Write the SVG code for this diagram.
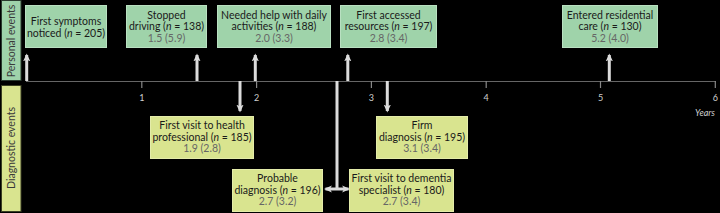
<svg xmlns="http://www.w3.org/2000/svg" width="720" height="213" viewBox="0 0 720 213">
<defs>
<style>
.bg{fill:#000}
.pe{fill:#9fd3aa;stroke:#b9e0c1;stroke-width:1}
.de{fill:#d9e48f;stroke:#e4ecaa;stroke-width:1}
.band-p{fill:#9fd3aa;stroke:#2a3a2e;stroke-width:1}
.band-d{fill:#d9e48f;stroke:#3a3e22;stroke-width:1}
.t{font-family:Lato,"Liberation Sans",sans-serif;font-size:10.5px;fill:#1a1a1a;text-anchor:middle}
.g{fill:#666}
.band{font-family:Lato,"Liberation Sans",sans-serif;font-size:10.5px;fill:#3a3a3a;text-anchor:middle}
.tick{stroke:#888;stroke-width:1.2}
.tl{font-family:Lato,"Liberation Sans",sans-serif;font-size:9px;fill:#cfcfcf;text-anchor:middle}
.arr{stroke:#dcdcdc;stroke-width:3;fill:none;marker-end:url(#ah)}
</style>
<marker id="ah" viewBox="0 0 10 10" refX="8" refY="5" markerWidth="8" markerHeight="8" markerUnits="userSpaceOnUse" orient="auto">
<path d="M0,0.5 L10,5 L0,9.5 L2.5,5 Z" fill="#dcdcdc"/>
</marker>
</defs>
<rect class="bg" x="0" y="0" width="720" height="213"/>

<g id="band-personal">
<rect class="band-p" x="1.5" y="0.5" width="19.5" height="80"/>
<text class="band" transform="translate(15,41) rotate(-90)">Personal events</text>
</g>
<g id="band-diagnostic">
<rect class="band-d" x="1.5" y="85.5" width="19.5" height="126"/>
<text class="band" transform="translate(15,148) rotate(-90)">Diagnostic events</text>
</g>

<g id="axis">
<line x1="26" y1="81.5" x2="716" y2="81.5" stroke="#666" stroke-width="1"/>
<line class="tick" x1="141.8" y1="81" x2="141.8" y2="88"/>
<line class="tick" x1="256.6" y1="81" x2="256.6" y2="88"/>
<line class="tick" x1="371.4" y1="81" x2="371.4" y2="88"/>
<line class="tick" x1="486.2" y1="81" x2="486.2" y2="88"/>
<line class="tick" x1="600.5" y1="81" x2="600.5" y2="88"/>
<line class="tick" x1="715.3" y1="81" x2="715.3" y2="88"/>
<text class="tl" x="141.8" y="101">1</text>
<text class="tl" x="256.6" y="101">2</text>
<text class="tl" x="371.4" y="101">3</text>
<text class="tl" x="486.2" y="101">4</text>
<text class="tl" x="600.5" y="101">5</text>
<text class="tl" x="715.3" y="101">6</text>
<text class="tl" x="705" y="116" font-style="italic">Years</text>
</g>

<g id="connectors">
<line class="arr" x1="26.7" y1="81" x2="26.7" y2="55"/>
<line class="arr" x1="197" y1="81" x2="197" y2="55"/>
<line class="arr" x1="255.3" y1="81" x2="255.3" y2="55"/>
<line class="arr" x1="347.8" y1="81" x2="347.8" y2="55"/>
<line class="arr" x1="609.3" y1="81" x2="609.3" y2="55"/>
<line class="arr" x1="240" y1="81" x2="240" y2="111"/>
<line class="arr" x1="387.3" y1="81" x2="387.3" y2="111"/>
<path d="M337,81 V189" stroke="#dcdcdc" stroke-width="3" fill="none"/>
<path class="arr" d="M337,189 H325.5"/>
<path class="arr" d="M337,189 H348.5"/>
</g>

<g id="first-symptoms">
<rect class="pe" x="25.5" y="5.5" width="81" height="42"/>
<text class="t" x="66" y="25">First symptoms</text>
<text class="t" x="66" y="36.5">noticed (<tspan font-style="italic">n</tspan> = 205)</text>
</g>
<g id="stopped-driving">
<rect class="pe" x="126.5" y="5.5" width="80" height="42"/>
<text class="t" x="166.5" y="18.5">Stopped</text>
<text class="t" x="166.5" y="30">driving (<tspan font-style="italic">n</tspan> = 138)</text>
<text class="t g" x="166.5" y="41.5">1.5 (5.9)</text>
</g>
<g id="needed-help">
<rect class="pe" x="217.5" y="5.5" width="113" height="42"/>
<text class="t" x="274" y="18.5">Needed help with daily</text>
<text class="t" x="274" y="30">activities (<tspan font-style="italic">n</tspan> = 188)</text>
<text class="t g" x="274" y="41.5">2.0 (3.3)</text>
</g>
<g id="accessed-resources">
<rect class="pe" x="340.5" y="5.5" width="96" height="42"/>
<text class="t" x="388.5" y="18.5">First accessed</text>
<text class="t" x="388.5" y="30">resources (<tspan font-style="italic">n</tspan> = 197)</text>
<text class="t g" x="388.5" y="41.5">2.8 (3.4)</text>
</g>
<g id="residential-care">
<rect class="pe" x="562.5" y="5.5" width="95" height="42"/>
<text class="t" x="610" y="18.5">Entered residential</text>
<text class="t" x="610" y="30">care (<tspan font-style="italic">n</tspan> = 130)</text>
<text class="t g" x="610" y="41.5">5.2 (4.0)</text>
</g>

<g id="health-professional">
<rect class="de" x="150.5" y="116.5" width="103" height="42"/>
<text class="t" x="202" y="129">First visit to health</text>
<text class="t" x="202" y="140.5">professional (<tspan font-style="italic">n</tspan> = 185)</text>
<text class="t g" x="202" y="152">1.9 (2.8)</text>
</g>
<g id="firm-diagnosis">
<rect class="de" x="376.5" y="116.5" width="91" height="42"/>
<text class="t" x="422" y="129">Firm</text>
<text class="t" x="422" y="140.5">diagnosis (<tspan font-style="italic">n</tspan> = 195)</text>
<text class="t g" x="422" y="152">3.1 (3.4)</text>
</g>
<g id="probable-diagnosis">
<rect class="de" x="232.5" y="169.5" width="90" height="42"/>
<text class="t" x="277.5" y="182">Probable</text>
<text class="t" x="277.5" y="193.5">diagnosis (<tspan font-style="italic">n</tspan> = 196)</text>
<text class="t g" x="277.5" y="205">2.7 (3.2)</text>
</g>
<g id="dementia-specialist">
<rect class="de" x="349.5" y="169.5" width="104" height="42"/>
<text class="t" x="401.5" y="182">First visit to dementia</text>
<text class="t" x="401.5" y="193.5">specialist (<tspan font-style="italic">n</tspan> = 180)</text>
<text class="t g" x="401.5" y="205">2.7 (3.4)</text>
</g>
</svg>
